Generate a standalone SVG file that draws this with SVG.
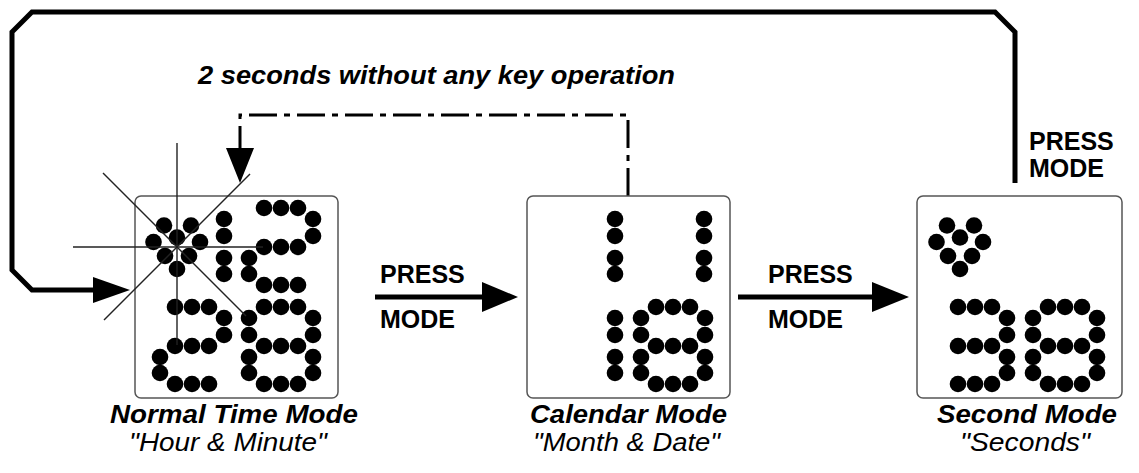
<svg xmlns="http://www.w3.org/2000/svg" xmlns:xlink="http://www.w3.org/1999/xlink" width="1139" height="473" viewBox="0 0 1139 473">
<style>
.box{fill:#fff;stroke:#555;stroke-width:1.5}
.dot{fill:#000}
.flash{stroke:#222;stroke-width:1.4;fill:none}
.loop{stroke:#000;stroke-width:5;fill:none;stroke-linejoin:miter}
.dash{stroke:#000;stroke-width:3;fill:none;stroke-dasharray:28 7 6 7}
.head{fill:#000}
.lbl{font-family:"Liberation Sans",Arial,sans-serif;font-weight:bold;font-size:25px;fill:#000}
.note{font-family:"Liberation Sans",Arial,sans-serif;font-weight:bold;font-style:italic;font-size:25px;fill:#000}
.name{font-family:"Liberation Sans",Arial,sans-serif;font-weight:bold;font-style:italic;font-size:26px;fill:#000}
.sub{font-family:"Liberation Sans",Arial,sans-serif;font-style:italic;font-size:26px;fill:#000}
</style>
<defs>
<g id="sa" class="dot"><circle cx="15" cy="0" r="8.3"/><circle cx="32" cy="0" r="8.3"/><circle cx="49" cy="0" r="8.3"/></g>
<g id="sb" class="dot"><circle cx="64" cy="11" r="8.3"/><circle cx="64" cy="28" r="8.3"/></g>
<g id="sc" class="dot"><circle cx="64" cy="50" r="8.3"/><circle cx="64" cy="66" r="8.3"/></g>
<g id="sd" class="dot"><circle cx="15" cy="77" r="8.3"/><circle cx="32" cy="77" r="8.3"/><circle cx="49" cy="77" r="8.3"/></g>
<g id="se" class="dot"><circle cx="0" cy="50" r="8.3"/><circle cx="0" cy="66" r="8.3"/></g>
<g id="sf" class="dot"><circle cx="0" cy="11" r="8.3"/><circle cx="0" cy="28" r="8.3"/></g>
<g id="sg" class="dot"><circle cx="15" cy="39" r="8.3"/><circle cx="32" cy="39" r="8.3"/><circle cx="49" cy="39" r="8.3"/></g>
<g id="d1"><use xlink:href="#sb"/><use xlink:href="#sc"/></g>
<g id="d2"><use xlink:href="#sa"/><use xlink:href="#sb"/><use xlink:href="#sg"/><use xlink:href="#se"/><use xlink:href="#sd"/></g>
<g id="d3"><use xlink:href="#sa"/><use xlink:href="#sb"/><use xlink:href="#sg"/><use xlink:href="#sc"/><use xlink:href="#sd"/></g>
<g id="d8"><use xlink:href="#sa"/><use xlink:href="#sb"/><use xlink:href="#sc"/><use xlink:href="#sd"/><use xlink:href="#se"/><use xlink:href="#sf"/><use xlink:href="#sg"/></g>
<g id="icon" class="dot"><circle cx="-13" cy="-21.5" r="8.3"/><circle cx="14" cy="-21.5" r="8.3"/><circle cx="-23.5" cy="-5" r="8.3"/><circle cx="0" cy="-9.5" r="8.3"/><circle cx="23" cy="-5" r="8.3"/><circle cx="-12" cy="9" r="8.3"/><circle cx="12" cy="9" r="8.3"/><circle cx="0" cy="22" r="8.3"/></g>
</defs>
<rect width="1139" height="473" fill="#fff"/>

<g id="connectors">
<path class="loop" d="M1015,183 V32 L995,12 H32 L12,32 V270 L32,290 H96"/>
<polygon class="head" points="93,277 130,290 93,303"/>
<path class="dash" d="M628,196 V115 H240 V150"/>
<polygon class="head" points="226,148 254,148 240,183"/>
<line x1="375" y1="297" x2="486" y2="297" stroke="#000" stroke-width="5"/>
<polygon class="head" points="482,282 518,297 482,312"/>
<line x1="738" y1="297" x2="876" y2="297" stroke="#000" stroke-width="5"/>
<polygon class="head" points="872,282 909,297 872,312"/>
</g>

<g id="labels">
<text class="note" x="198" y="84" textLength="477" lengthAdjust="spacingAndGlyphs">2 seconds without any key operation</text>
<text class="lbl" x="380" y="283">PRESS</text>
<text class="lbl" x="380" y="328">MODE</text>
<text class="lbl" x="768" y="283">PRESS</text>
<text class="lbl" x="768" y="328">MODE</text>
<text class="lbl" x="1029" y="150">PRESS</text>
<text class="lbl" x="1029" y="177">MODE</text>
</g>

<g id="normal-time-mode">
<rect class="box" x="135" y="196" width="203" height="202" rx="6"/>
<use xlink:href="#icon" x="177" y="247"/>
<use xlink:href="#d1" x="160" y="208"/>
<use xlink:href="#d2" x="249" y="208"/>
<use xlink:href="#d2" x="160" y="307"/>
<use xlink:href="#d8" x="249" y="307"/>
<g class="flash">
<line x1="177" y1="143" x2="177" y2="345"/>
<line x1="73" y1="247" x2="263" y2="247"/>
<line x1="103" y1="173" x2="246" y2="316"/>
<line x1="250" y1="174" x2="104" y2="320"/>
</g>
<text class="name" x="110" y="423" textLength="248" lengthAdjust="spacingAndGlyphs">Normal Time Mode</text>
<text class="sub" x="129" y="451" textLength="198" lengthAdjust="spacingAndGlyphs">"Hour &amp; Minute"</text>
</g>

<g id="calendar-mode">
<rect class="box" x="527" y="196" width="203" height="202" rx="6"/>
<use xlink:href="#d1" x="551" y="208"/>
<use xlink:href="#d1" x="640" y="208"/>
<use xlink:href="#d1" x="551" y="307"/>
<use xlink:href="#d8" x="641" y="307"/>
<text class="name" x="530" y="423" textLength="197" lengthAdjust="spacingAndGlyphs">Calendar Mode</text>
<text class="sub" x="533" y="451" textLength="187" lengthAdjust="spacingAndGlyphs">"Month &amp; Date"</text>
</g>

<g id="second-mode">
<rect class="box" x="917" y="196" width="205" height="202" rx="6"/>
<use xlink:href="#icon" x="960" y="247"/>
<use xlink:href="#d3" x="943" y="307"/>
<use xlink:href="#d8" x="1033" y="307"/>
<text class="name" x="937" y="423" textLength="180" lengthAdjust="spacingAndGlyphs">Second Mode</text>
<text class="sub" x="960" y="451" textLength="130" lengthAdjust="spacingAndGlyphs">"Seconds"</text>
</g>
</svg>
